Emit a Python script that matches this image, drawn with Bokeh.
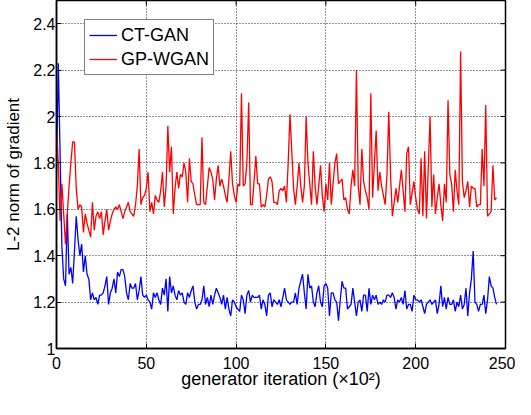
import math
from bokeh.plotting import figure
from bokeh.models import Range1d, FixedTicker, CustomJSTickFormatter
from bokeh.embed import file_html
from bokeh.resources import INLINE

# ---- data ----
ct_gan = [
    1.76, 2.23, 1.84, 1.44, 1.30, 1.27, 1.58, 1.32, 1.35, 1.28,
    1.42, 1.57, 1.47, 1.40, 1.45, 1.33, 1.40, 1.32, 1.30, 1.21,
    1.24, 1.21, 1.22, 1.19, 1.23, 1.23, 1.24, 1.27, 1.31, 1.19,
    1.24, 1.26, 1.30, 1.24, 1.33, 1.31, 1.34, 1.34, 1.31, 1.24,
    1.21, 1.28, 1.26, 1.26, 1.28, 1.21, 1.25, 1.31, 1.23, 1.22,
    1.23, 1.21, 1.20, 1.17, 1.24, 1.22, 1.24, 1.21, 1.19, 1.26,
    1.23, 1.30, 1.16, 1.31, 1.24, 1.27, 1.23, 1.21, 1.25, 1.23,
    1.24, 1.20, 1.19, 1.24, 1.22, 1.25,
    1.27, 1.20, 1.17, 1.19, 1.19, 1.21, 1.27, 1.19, 1.22, 1.18,
    1.23, 1.19, 1.23, 1.26, 1.24, 1.22, 1.19, 1.23, 1.17, 1.22,
    1.17, 1.14, 1.21, 1.20, 1.18, 1.17, 1.16, 1.23, 1.21, 1.15,
    1.23, 1.25, 1.20, 1.23, 1.22, 1.22, 1.22, 1.23, 1.17, 1.21,
    1.19, 1.14, 1.23, 1.24, 1.18, 1.21, 1.20, 1.19, 1.21, 1.18,
    1.22, 1.26, 1.21, 1.20, 1.19, 1.20, 1.20, 1.24, 1.19, 1.26,
    1.29, 1.32, 1.24, 1.17, 1.32, 1.26, 1.27, 1.20, 1.18, 1.24,
    1.27, 1.20, 1.18, 1.27, 1.28, 1.26, 1.14, 1.24, 1.24, 1.21,
    1.20, 1.12, 1.21, 1.29, 1.26, 1.26, 1.17, 1.18, 1.19, 1.26,
    1.20, 1.14, 1.20, 1.21, 1.16, 1.23, 1.23, 1.16, 1.26, 1.19,
    1.23, 1.21, 1.23, 1.19, 1.20, 1.19, 1.21, 1.20, 1.23, 1.23,
    1.22, 1.24, 1.22, 1.17, 1.21, 1.20, 1.22, 1.19, 1.25, 1.17,
    1.19, 1.19, 1.16, 1.23, 1.21, 1.21, 1.20, 1.21, 1.18, 1.15,
    1.19, 1.20, 1.21, 1.19, 1.20, 1.21, 1.15, 1.19, 1.27, 1.18,
    1.22, 1.17, 1.22, 1.19, 1.19, 1.21, 1.16, 1.20, 1.18, 1.23,
    1.17, 1.19, 1.26, 1.14, 1.24, 1.30, 1.42, 1.20, 1.19, 1.16,
    1.19, 1.19, 1.23, 1.15, 1.21, 1.31, 1.27, 1.26, 1.22, 1.19,
]

gp_wgan = [
    1.95, 1.80, 1.55, 1.71, 1.58, 1.45, 1.58, 1.70, 1.80, 1.89,
    1.89, 1.69, 1.60, 1.62, 1.61, 1.50, 1.58, 1.54, 1.51, 1.48,
    1.63, 1.51, 1.57, 1.59, 1.56, 1.59, 1.49, 1.55, 1.60, 1.51,
    1.55, 1.58, 1.60, 1.61, 1.60, 1.62, 1.59, 1.56, 1.59, 1.61,
    1.63, 1.59, 1.58, 1.57, 1.62, 1.70, 1.86, 1.62, 1.65, 1.66,
    1.69, 1.76, 1.59, 1.63, 1.58, 1.66, 1.64, 1.63, 1.68, 1.76,
    1.61, 1.70, 1.96, 1.76, 1.87, 1.58, 1.69, 1.76, 1.69, 1.75,
    1.74, 1.80, 1.76, 1.63, 1.82, 1.72,
    1.71, 1.66, 1.62, 1.62, 1.62, 1.91, 1.63, 1.62, 1.70, 1.78,
    1.76, 1.73, 1.64, 1.73, 1.79, 1.70, 1.73, 1.70, 1.66, 1.63,
    1.73, 1.85, 1.71, 1.66, 1.63, 1.71, 1.70, 2.10, 1.70, 1.71,
    1.80, 2.06, 1.62, 1.62, 1.72, 1.83, 1.71, 1.71, 1.61, 1.62,
    1.61, 1.66, 1.73, 1.74, 1.72, 1.63, 1.63, 1.62, 1.68, 1.69,
    1.68, 1.70, 1.63, 1.80, 2.01, 1.85, 1.69, 1.62, 1.70, 1.80,
    1.70, 1.63, 1.70, 2.00, 1.80, 1.71, 1.62, 1.85, 1.70, 1.62,
    1.70, 1.79, 1.66, 1.59, 1.71, 1.64, 1.80, 1.62, 1.71, 1.80,
    1.84, 1.71, 1.72, 1.73, 1.64, 1.65, 1.60, 1.58, 1.70, 1.77,
    1.70, 2.20, 1.70, 1.62, 1.86, 1.72, 1.68, 1.65, 1.60, 2.10,
    1.65, 1.80, 1.94, 1.68, 1.76, 1.70, 1.66, 1.62, 1.75, 2.02,
    1.75, 1.57, 1.63, 1.69, 1.63, 1.70, 1.77, 1.68, 1.59, 1.84,
    1.87, 1.62, 1.67, 1.72, 1.65, 1.60, 1.58, 1.82, 1.57, 1.85,
    1.56, 1.78, 2.00, 1.61, 1.75, 1.58, 1.65, 1.71, 1.62, 1.55,
    1.71, 1.63, 2.07, 1.75, 1.71, 1.59, 1.77, 1.68, 1.62, 2.28,
    1.72, 1.65, 1.68, 1.72, 1.61, 1.70, 1.69, 1.69, 1.61, 1.62,
    1.62, 1.86, 1.70, 2.05, 1.57, 1.58, 1.59, 1.79, 1.64, 1.65,
]

iterations = list(range(len(gp_wgan)))  # generator iteration (x10^2)

x_ticks = [0, 50, 100, 150, 200, 250]
y_ticks = [1.0, 1.2, 1.4, 1.6, 1.8, 2.0, 2.2, 2.4]
series_names = ["CT-GAN", "GP-WGAN"]
x_label = "generator iteration (\u00d710\u00b2)"
y_label = "L-2 norm of gradient"

FONT = "Liberation Sans"
X_MIN, X_MAX, Y_MIN, Y_MAX = 0, 250, 1.0, 2.5

p = figure(
    width=515, height=391,
    output_backend="svg", toolbar_location=None,
    x_range=Range1d(X_MIN, X_MAX), y_range=Range1d(Y_MIN, Y_MAX),
    min_border_left=56, min_border_right=10,
    min_border_top=0, min_border_bottom=0,
)
p.background_fill_color = "white"
p.border_fill_color = "white"
p.outline_line_color = "black"
p.outline_line_width = 1.5

fmt = CustomJSTickFormatter(code="return String(Math.round(tick * 10) / 10);")

for ax in (p.xaxis[0], p.yaxis[0]):
    ax.major_tick_in = 5
    ax.major_tick_out = 0
    ax.minor_tick_line_color = None
    ax.axis_line_color = "black"
    ax.axis_line_width = 1.5
    ax.major_tick_line_color = "black"
    ax.major_label_text_font = FONT
    ax.major_label_text_font_size = "16px"
    ax.major_label_text_color = "black"
    ax.axis_label_text_font = FONT
    ax.axis_label_text_font_style = "normal"
    ax.axis_label_text_color = "black"

p.xaxis.ticker = FixedTicker(ticks=x_ticks)
p.yaxis.ticker = FixedTicker(ticks=y_ticks)
p.yaxis.formatter = fmt
p.xaxis.axis_label = x_label
p.yaxis.axis_label = y_label
p.xaxis.axis_label_text_font_size = "18px"
p.yaxis.axis_label_text_font_size = "17px"
p.xaxis.major_label_standoff = 8
p.xaxis.axis_label_standoff = -3
p.yaxis.major_label_standoff = 1
p.yaxis.axis_label_standoff = 7

# inward tick marks mirrored on the right and top edges of the frame
p.ray(x=[X_MAX] * len(y_ticks), y=y_ticks, length=5, length_units="screen",
      angle=math.pi, line_color="black", line_width=1)
p.ray(x=x_ticks, y=[Y_MAX] * len(x_ticks), length=5, length_units="screen",
      angle=-math.pi / 2, line_color="black", line_width=1)

for g in (p.xgrid[0], p.ygrid[0]):
    g.grid_line_color = "black"
    g.grid_line_dash = "1 2"
    g.grid_line_alpha = 0.85
    g.grid_line_width = 1

p.line(iterations, ct_gan, line_color="#0000ff", line_width=1.3, legend_label=series_names[0])
p.line(iterations, gp_wgan, line_color="#ff0000", line_width=1.3, legend_label=series_names[1])

lg = p.legend[0]
lg.location = (28, 273)
lg.label_text_font = FONT
lg.label_text_font_size = "18px"
lg.label_text_color = "black"
lg.glyph_width = 28
lg.glyph_height = 22
lg.label_height = 22
lg.label_standoff = 4
lg.spacing = 2
lg.padding = 4
lg.margin = 0
lg.border_line_color = "black"
lg.border_line_width = 1.5
lg.background_fill_alpha = 1.0

open("out.html", "w").write(file_html(p, INLINE))
